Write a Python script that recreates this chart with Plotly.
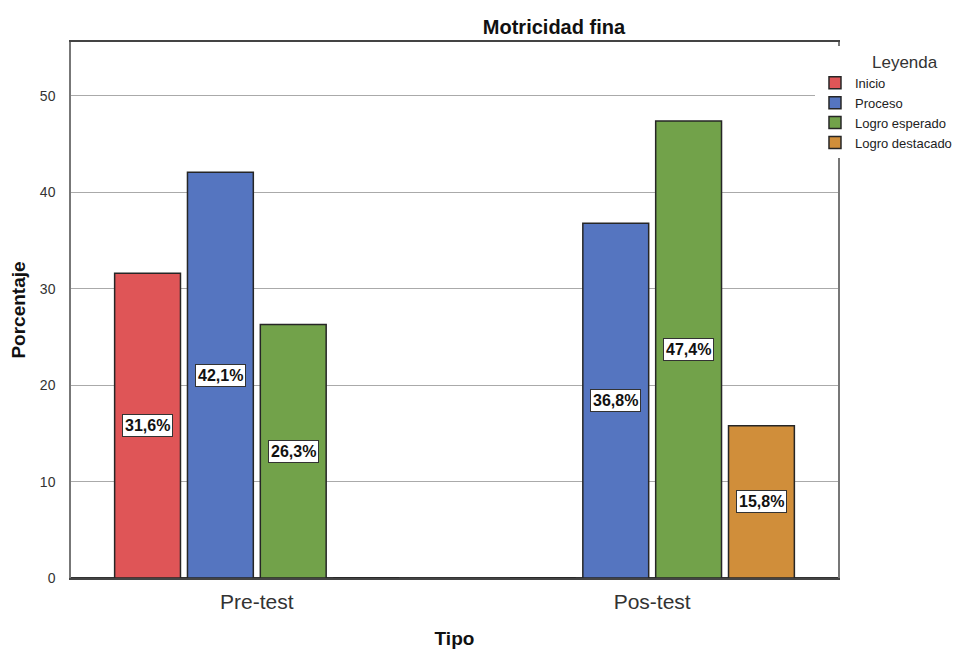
import plotly.graph_objects as go

categories = ["Pre-test", "Pos-test"]
series_names = ["Inicio", "Proceso", "Logro esperado", "Logro destacado"]
inicio = [31.6, 0.0]
proceso = [42.1, 36.8]
logro_esperado = [26.3, 47.4]
logro_destacado = [0.0, 15.8]
series_values = [inicio, proceso, logro_esperado, logro_destacado]
colors = ["#DF5557", "#5575C0", "#72A24A", "#D08E3A"]

BARGAP = 0.263
BARGROUPGAP = 0.096
FONT = "Liberation Sans, Arial, sans-serif"

fig = go.Figure()
for name, vals, col in zip(series_names, series_values, colors):
    fig.add_trace(go.Bar(
        x=categories, y=vals, name=name,
        marker=dict(color=col, line=dict(color="#262626", width=1.5)),
        hoverinfo="y+name",
    ))

# value labels in white boxes, centred in each bar
n = len(series_names)
slot = (1 - BARGAP) / n
for i, vals in enumerate(series_values):
    for j, v in enumerate(vals):
        if v <= 0:
            continue
        fig.add_annotation(
            x=j + (i - (n - 1) / 2) * slot, y=v / 2, xref="x", yref="y",
            text=f"<b>{v:.1f}%</b>".replace(".", ","),
            showarrow=False, bgcolor="white", bordercolor="#333333",
            borderwidth=1, borderpad=2,
            font=dict(family="Liberation Sans Narrow, " + FONT, size=16, color="#111111"),
        )

fig.update_layout(
    width=968, height=650,
    paper_bgcolor="white", plot_bgcolor="white",
    margin=dict(l=63, r=138, t=34, b=80, autoexpand=False),
    barmode="group", bargap=BARGAP, bargroupgap=BARGROUPGAP,
    font=dict(family=FONT, color="#222222"),
    title=dict(text="<b>Motricidad fina</b>", x=0.564, xanchor="center",
               y=0.971, yanchor="middle",
               font=dict(family=FONT, size=20, color="#111111")),
    legend=dict(
        x=0.970, xanchor="left", y=0.993, yanchor="top",
        bgcolor="white", borderwidth=0,
        title=dict(text="&nbsp;" * 8 + "Leyenda", side="top center",
                   font=dict(family=FONT, size=17, color="#333333")),
        font=dict(family=FONT, size=13, color="#222222"),
        tracegroupgap=0, itemwidth=30,
    ),
    showlegend=True,
)

fig.update_xaxes(
    type="category", range=[-0.47, 1.47], automargin=False,
    showline=True, linecolor="#444444", linewidth=1.5, mirror=True,
    ticks="outside", ticklen=4, tickcolor="white", showgrid=False,
    tickfont=dict(family=FONT, size=21, color="#333333"),
    title=dict(text="<b>Tipo</b>", standoff=20,
               font=dict(family=FONT, size=19, color="#111111")),
)
fig.update_yaxes(
    range=[0, 55.6], dtick=10, automargin=False,
    showline=True, linecolor="#777777", linewidth=1.5, mirror=True,
    showgrid=True, gridcolor="#AAAAAA", gridwidth=1,
    zeroline=True, zerolinecolor="#333333", zerolinewidth=1.5,
    ticks="outside", ticklen=11, tickcolor="white",
    tickfont=dict(family=FONT, size=14, color="#333333"),
    title=dict(text="<b>Porcentaje</b>", standoff=12,
               font=dict(family=FONT, size=19, color="#111111")),
)

fig.write_html("out.html")
